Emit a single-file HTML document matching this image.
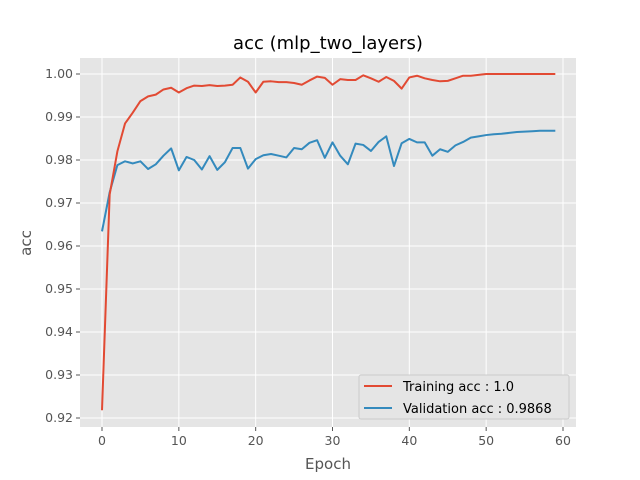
<!DOCTYPE html>
<html><head><meta charset="utf-8"><style>
body{margin:0;background:#fff;}
svg{display:block;font-family:"DejaVu Sans","Liberation Sans",sans-serif;}
</style></head><body>
<svg id="chart" width="640" height="480" xmlns="http://www.w3.org/2000/svg">
<rect x="0" y="0" width="640" height="480" fill="#fff"/>
<rect x="80" y="58" width="496" height="369" fill="#e5e5e5"/>
<g id="grid"></g><g id="ticks"></g><g id="lines"></g>
<text x="328" y="49" text-anchor="middle" font-size="18" fill="#000">acc (mlp_two_layers)</text>
<text x="328" y="469" text-anchor="middle" font-size="15" fill="#555">Epoch</text>
<text x="31" y="243" text-anchor="middle" font-size="15" fill="#555" transform="rotate(-90 31 243)">acc</text>
<g>
<rect x="359" y="375" width="210" height="44" rx="2" fill="#e5e5e5" stroke="#ccc" stroke-width="1"/>
<line x1="364" y1="386" x2="392" y2="386" stroke="#e24a33" stroke-width="2"/>
<text x="403" y="391" font-size="13" fill="#000">Training acc : 1.0</text>
<line x1="364" y1="408" x2="392" y2="408" stroke="#348abd" stroke-width="2"/>
<text x="403" y="413" font-size="13" fill="#000">Validation acc : 0.9868</text>
</g>
</svg>
<script>
const xTicks=[0,10,20,30,40,50,60];
const yTicks=[0.92,0.93,0.94,0.95,0.96,0.97,0.98,0.99,1.00];
const yTickLabels=["0.92","0.93","0.94","0.95","0.96","0.97","0.98","0.99","1.00"];
const trainAcc=[0.9218,0.972,0.982,0.9885,0.991,0.9937,0.9948,0.9952,0.9964,0.9968,0.9957,0.9967,0.9973,0.9972,0.9974,0.9972,0.9973,0.9975,0.9992,0.9982,0.9957,0.9982,0.9983,0.9981,0.9981,0.9979,0.9975,0.9985,0.9994,0.9991,0.9975,0.9988,0.9986,0.9986,0.9997,0.999,0.9982,0.9993,0.9984,0.9966,0.9992,0.9996,0.999,0.9986,0.9983,0.9984,0.999,0.9996,0.9996,0.9998,1,1,1,1,1,1,1,1,1,1];
const valAcc=[0.9634,0.9725,0.9788,0.9797,0.9792,0.9797,0.9779,0.979,0.981,0.9827,0.9776,0.9807,0.98,0.9778,0.9809,0.9777,0.9795,0.9828,0.9828,0.978,0.9802,0.9811,0.9814,0.981,0.9806,0.9828,0.9825,0.984,0.9846,0.9805,0.9841,0.981,0.979,0.9838,0.9835,0.9821,0.9842,0.9855,0.9786,0.9839,0.9849,0.9841,0.9841,0.981,0.9825,0.9819,0.9834,0.9842,0.9852,0.9855,0.9858,0.986,0.9861,0.9863,0.9865,0.9866,0.9867,0.9868,0.9868,0.9868];
const NS="http://www.w3.org/2000/svg";
function xs(v){return 102+v*(563-102)/60;}
function ys(v){return 418-(v-0.92)*(418-74)/0.08;}
function mk(t,a,p){const e=document.createElementNS(NS,t);for(const k in a)e.setAttribute(k,a[k]);p.appendChild(e);return e;}
const grid=document.getElementById('grid'),ticks=document.getElementById('ticks'),lines=document.getElementById('lines');
xTicks.forEach(v=>{
 const l=mk('line',{x1:xs(v),x2:xs(v),y1:58,y2:427,stroke:'#fff','stroke-width':1},grid);
 
 
 mk('line',{x1:xs(v),x2:xs(v),y1:427,y2:431,stroke:'#555'},ticks);
 const t=mk('text',{x:xs(v),y:445,'text-anchor':'middle','font-size':12.5,fill:'#555'},ticks);
 t.textContent=String(v);
 
 
});
yTicks.forEach((v,i)=>{
 const l=mk('line',{x1:80,x2:576,y1:ys(v),y2:ys(v),stroke:'#fff','stroke-width':1},grid);
 
 
 mk('line',{x1:76,x2:80,y1:ys(v),y2:ys(v),stroke:'#555'},ticks);
 const t=mk('text',{x:73,y:ys(v)+4,'text-anchor':'end','font-size':12.5,fill:'#555'},ticks);
 t.textContent=yTickLabels[i];
 
 
});
function series(arr,color,name){
 const d=arr.map((v,i)=>(i?'L':'M')+xs(i).toFixed(2)+' '+ys(v).toFixed(2)).join(' ');
 const p=mk('path',{d:d,fill:'none',stroke:color,'stroke-width':2,'stroke-linejoin':'round'},lines);
 
 
}
series(valAcc,'#348abd','validation-acc-line');
series(trainAcc,'#e24a33','training-acc-line');
</script>
</body></html>
